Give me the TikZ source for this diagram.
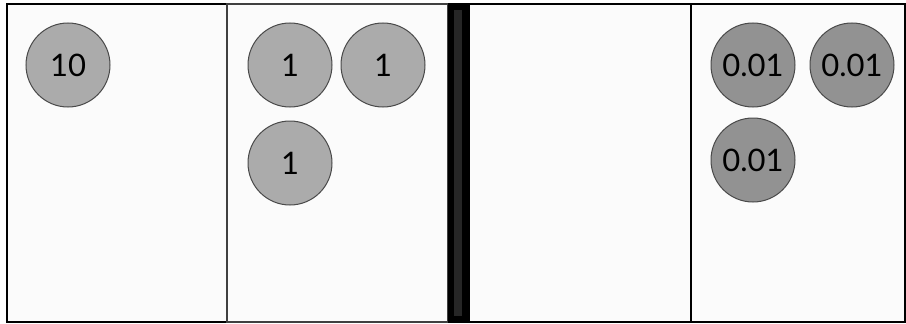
\documentclass[tikz,border=0pt]{standalone}
\usepackage{fontspec}
\setmainfont{Lato}
\definecolor{panelbg}{HTML}{FBFBFB}
\definecolor{discA}{HTML}{ABABAB}
\definecolor{discB}{HTML}{929292}
\definecolor{discedge}{HTML}{4A4A4A}
\begin{document}
\begin{tikzpicture}[x=1pt,y=-1pt,
  panel/.style={fill=panelbg,draw=black,line width=2.5pt},
  disc/.style={circle,minimum size=84pt,inner sep=0pt,draw=discedge,line width=1pt,font=\fontsize{31}{31}\selectfont},
  discl/.style={disc,fill=discA},
  discd/.style={disc,fill=discB}]
\useasboundingbox (0,0) rectangle (906,324);
\fill[white] (0,0) rectangle (906,324);
% panels
\draw[panel] (7,4) rectangle (227,322);
\draw[panel,draw=black!75] (227,4) rectangle (448,322);
\draw[panel] (469,4) rectangle (691,322);
\draw[panel] (691,4) rectangle (905,322);
% thick bar
\fill[black] (448,3) rectangle (469,323);
\fill[black!85] (454,10) rectangle (462,316);
% discs
\node[discl] (ten) at (68,65) {10};
\node[discl] (oneA) at (290,65) {1};
\node[discl] (oneB) at (383,65) {1};
\node[discl] (oneC) at (290,163) {1};
\node[discd] (hundA) at (753,65) {0.01};
\node[discd] (hundB) at (852,65) {0.01};
\node[discd] (hundC) at (753,160) {0.01};
\end{tikzpicture}
\end{document}
